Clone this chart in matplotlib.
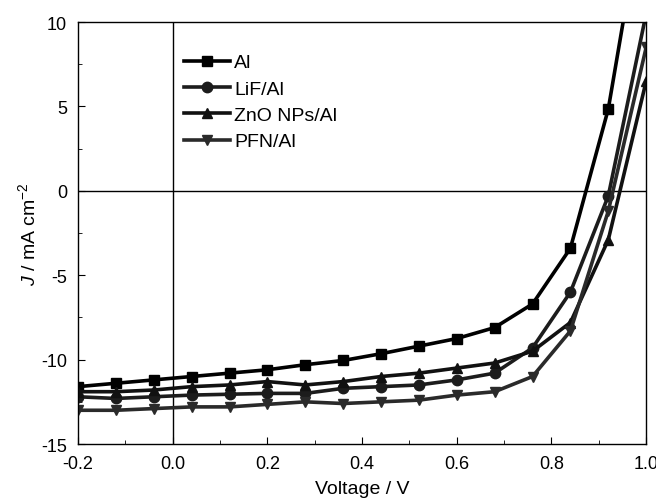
import matplotlib
matplotlib.use('Agg')
from matplotlib import pyplot as plt
from matplotlib.ticker import MultipleLocator

plt.rcParams['font.family'] = ['Liberation Sans', 'DejaVu Sans']
plt.rcParams['mathtext.fontset'] = 'custom'
plt.rcParams['mathtext.rm'] = 'Liberation Sans'
plt.rcParams['mathtext.it'] = 'Liberation Sans:italic'
plt.rcParams['axes.unicode_minus'] = False

# voltage points (V)
voltage = [-0.2, -0.12, -0.04, 0.04, 0.12, 0.2, 0.28, 0.36, 0.44, 0.52,
           0.6, 0.68, 0.76, 0.84, 0.92, 1.0]

# current density (mA cm-2)
j_al = [-11.6, -11.4, -11.2, -11.0, -10.8, -10.6, -10.3, -10.05, -9.65, -9.2,
        -8.75, -8.1, -6.7, -3.4, 4.85, 18.0]
j_lif = [-12.2, -12.3, -12.2, -12.1, -12.05, -12.0, -12.0, -11.7, -11.6, -11.5,
         -11.2, -10.8, -9.3, -6.0, -0.3, 10.5]
j_zno = [-11.9, -11.9, -11.8, -11.6, -11.5, -11.3, -11.5, -11.3, -11.0, -10.8,
         -10.5, -10.2, -9.5, -7.8, -2.9, 6.5]
j_pfn = [-13.0, -13.0, -12.9, -12.8, -12.8, -12.65, -12.5, -12.6, -12.5, -12.4,
         -12.1, -11.9, -11.0, -8.3, -1.2, 8.5]

series = [
    ('Al', j_al, 's', '#000000'),
    ('LiF/Al', j_lif, 'o', '#1c1c1c'),
    ('ZnO NPs/Al', j_zno, '^', '#111111'),
    ('PFN/Al', j_pfn, 'v', '#2a2a2a'),
]

fig = plt.figure(figsize=(6.56, 5.02), dpi=100)
ax = fig.add_axes([0.119, 0.1135, 0.866, 0.8405])

for label, j, marker, color in series:
    ax.plot(voltage, j, marker=marker, color=color, lw=2.6, ms=7.5, label=label)

ax.axhline(0, color='black', lw=1.0, zorder=0)
ax.axvline(0, color='black', lw=1.0, zorder=0)

ax.set_xlim(-0.2, 1.0)
ax.set_ylim(-15, 10)
ax.xaxis.set_major_locator(MultipleLocator(0.2))
ax.xaxis.set_minor_locator(MultipleLocator(0.1))
ax.yaxis.set_major_locator(MultipleLocator(5))
ax.yaxis.set_minor_locator(MultipleLocator(2.5))
ax.xaxis.set_major_formatter(plt.FuncFormatter(lambda v, p: '%.1f' % v))
ax.tick_params(axis='both', which='both', direction='in', top=False, right=False,
               labelsize=13)
ax.tick_params(axis='x', which='major', length=5, pad=8)
ax.tick_params(axis='y', which='major', length=5, pad=8)
ax.tick_params(which='minor', length=3)
for s in ax.spines.values():
    s.set_linewidth(1.0)

ax.set_xlabel('Voltage / V', fontsize=14, labelpad=6)
ax.set_ylabel('$J$ / mA cm$^{-2}$', fontsize=14, labelpad=1)

ax.legend(loc='upper left', bbox_to_anchor=(0.186, 0.925), frameon=False,
          fontsize=14, handlelength=2.4, handletextpad=0.2, labelspacing=0.45,
          borderaxespad=0, borderpad=0)

fig.savefig('out.png', dpi=100)
